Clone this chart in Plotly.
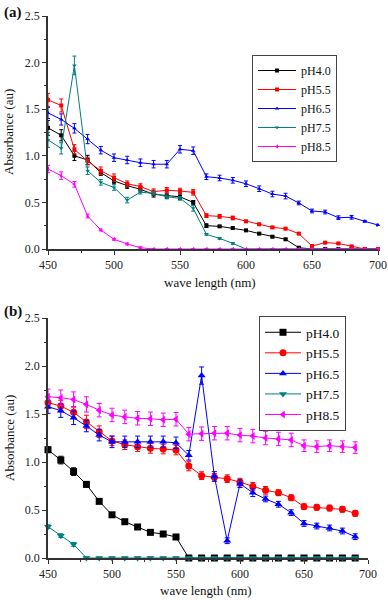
import plotly.graph_objects as go

# ---------------- data: panel (a) ----------------
wl_a = [450, 460, 470, 480, 490, 500, 510, 520, 530, 540, 550, 560, 570,
        580, 590, 600, 610, 620, 630, 640, 650, 660, 670, 680, 690, 700]
ph40_a = [1.30, 1.22, 1.00, 0.955, 0.82, 0.73, 0.68, 0.64, 0.587, 0.57, 0.56, 0.50, 0.25,
          0.243, 0.225, 0.20, 0.165, 0.132, 0.104, 0.014, 0, 0, 0, 0, 0, 0]
ph55_a = [1.60, 1.54, 1.07, 0.944, 0.84, 0.765, 0.70, 0.67, 0.615, 0.63, 0.622, 0.608, 0.358,
          0.35, 0.333, 0.297, 0.265, 0.232, 0.218, 0.165, 0.032, 0.068, 0.06, 0.028, 0, 0]
ph65_a = [1.46, 1.39, 1.295, 1.18, 1.06, 0.98, 0.955, 0.926, 0.91, 0.91, 1.07, 1.055, 0.776,
          0.762, 0.737, 0.70, 0.647, 0.59, 0.568, 0.494, 0.408, 0.397, 0.336, 0.34, 0.297, 0.257]
ph75_a = [1.17, 1.08, 1.97, 0.84, 0.715, 0.66, 0.525, 0.61, 0.597, 0.56, 0.544, 0.436, 0.157,
          0.114, 0.06, 0, 0, 0, 0, 0, 0, 0, 0, 0, 0, 0]
ph85_a = [0.858, 0.787, 0.694, 0.354, 0.204, 0.104, 0.054, 0.014, 0, 0, 0, 0, 0,
          0, 0, 0, 0, 0, 0, 0, 0, 0, 0, 0, 0, 0]
err40_a = [0.08, 0.06, 0.05, 0.05, 0.03, 0.03, 0.03, 0.03, 0.03, 0.03, 0.03, 0.02, 0.02,
           0.01, 0.01, 0.01, 0.01, 0.01, 0.01, 0.01, 0, 0, 0, 0, 0, 0]
err55_a = [0.07, 0.07, 0.05, 0.04, 0.04, 0.04, 0.03, 0.03, 0.03, 0.03, 0.03, 0.03, 0.02,
           0.02, 0.02, 0.01, 0.01, 0.01, 0.01, 0.01, 0.01, 0.01, 0.01, 0.01, 0, 0]
err65_a = [0.06, 0.06, 0.05, 0.05, 0.04, 0.04, 0.04, 0.04, 0.04, 0.04, 0.04, 0.04, 0.03,
           0.03, 0.03, 0.03, 0.03, 0.03, 0.03, 0.02, 0.02, 0.02, 0.02, 0.02, 0.01, 0.01]
err75_a = [0.08, 0.06, 0.10, 0.04, 0.03, 0.03, 0.03, 0.02, 0.02, 0.02, 0.02, 0.03, 0.01,
           0.01, 0.01, 0, 0, 0, 0, 0, 0, 0, 0, 0, 0, 0]
err85_a = [0.04, 0.04, 0.03, 0.02, 0.01, 0.01, 0.01, 0.01, 0, 0, 0, 0, 0,
           0, 0, 0, 0, 0, 0, 0, 0, 0, 0, 0, 0, 0]

# ---------------- data: panel (b) ----------------
wl_b = [450, 460, 470, 480, 490, 500, 510, 520, 530, 540, 550, 560, 570,
        580, 590, 600, 610, 620, 630, 640, 650, 660, 670, 680, 690]
ph40_b = [1.128, 1.02, 0.90, 0.767, 0.59, 0.45, 0.378, 0.323, 0.267, 0.25, 0.219, 0, 0,
          0, 0, 0, 0, 0, 0, 0, 0, 0, 0, 0, 0]
ph55_b = [1.618, 1.583, 1.517, 1.417, 1.316, 1.22, 1.18, 1.16, 1.142, 1.135, 1.125, 0.958, 0.858,
          0.84, 0.826, 0.79, 0.746, 0.705, 0.68, 0.628, 0.535, 0.528, 0.52, 0.507, 0.465]
ph65_b = [1.576, 1.535, 1.46, 1.375, 1.28, 1.21, 1.21, 1.21, 1.21, 1.21, 1.20, 1.07, 1.90,
          0.85, 0.18, 0.774, 0.68, 0.615, 0.56, 0.472, 0.36, 0.333, 0.313, 0.281, 0.222]
ph75_b = [0.326, 0.233, 0.142, 0, 0, 0, 0, 0, 0, 0, 0, 0, 0,
          0, 0, 0, 0, 0, 0, 0, 0, 0, 0, 0, 0]
ph85_b = [1.68, 1.67, 1.65, 1.60, 1.54, 1.49, 1.47, 1.455, 1.45, 1.44, 1.445, 1.29, 1.295,
          1.30, 1.30, 1.28, 1.27, 1.25, 1.24, 1.23, 1.17, 1.16, 1.17, 1.16, 1.15]
err40_b = [0.03, 0.04, 0.04, 0.03, 0.02, 0.02, 0.02, 0.02, 0.02, 0.02, 0.02, 0, 0,
           0, 0, 0, 0, 0, 0, 0, 0, 0, 0, 0, 0]
err55_b = [0.06, 0.06, 0.06, 0.07, 0.06, 0.05, 0.05, 0.05, 0.05, 0.05, 0.05, 0.05, 0.04,
           0.04, 0.04, 0.04, 0.04, 0.04, 0.03, 0.03, 0.03, 0.03, 0.03, 0.03, 0.03]
err65_b = [0.07, 0.07, 0.07, 0.06, 0.06, 0.06, 0.06, 0.06, 0.06, 0.06, 0.06, 0.05, 0.09,
           0.05, 0.03, 0.04, 0.04, 0.03, 0.03, 0.03, 0.03, 0.03, 0.03, 0.03, 0.03]
err75_b = [0.02, 0.02, 0.02, 0.01, 0.01, 0.01, 0.01, 0.01, 0.01, 0.01, 0.01, 0.01, 0.01,
           0.01, 0.01, 0.01, 0.01, 0.01, 0.01, 0.01, 0.01, 0.01, 0.01, 0.01, 0.01]
err85_b = [0.08, 0.08, 0.08, 0.08, 0.07, 0.07, 0.07, 0.07, 0.07, 0.07, 0.07, 0.07, 0.07,
           0.07, 0.07, 0.07, 0.07, 0.07, 0.07, 0.07, 0.06, 0.06, 0.06, 0.06, 0.06]

names = ["pH4.0", "pH5.5", "pH6.5", "pH7.5", "pH8.5"]
colors = ["#000000", "#FF0000", "#0000FF", "#008080", "#FF00FF"]
sym_a = ["square", "square", "triangle-up", "triangle-down", "triangle-left"]
sym_b = ["square", "circle", "triangle-up", "triangle-down", "triangle-left"]

SERIF = "Liberation Serif"

fig = go.Figure()

series_a = [ph40_a, ph55_a, ph65_a, ph75_a, ph85_a]
errs_a = [err40_a, err55_a, err65_a, err75_a, err85_a]
for nm, col, sym, ys, es in zip(names, colors, sym_a, series_a, errs_a):
    fig.add_trace(go.Scatter(
        x=wl_a, y=ys, name=nm, mode="lines+markers",
        line=dict(color=col, width=1),
        marker=dict(symbol=sym, size=4, color=col),
        error_y=dict(type="data", array=es, visible=True, color=col, thickness=1, width=2),
        cliponaxis=False, xaxis="x", yaxis="y", legend="legend"))

series_b = [ph40_b, ph55_b, ph65_b, ph75_b, ph85_b]
errs_b = [err40_b, err55_b, err65_b, err75_b, err85_b]
for nm, col, sym, ys, es in zip(names, colors, sym_b, series_b, errs_b):
    fig.add_trace(go.Scatter(
        x=wl_b, y=ys, name=nm, mode="lines+markers",
        line=dict(color=col, width=1),
        marker=dict(symbol=sym, size=7, color=col),
        error_y=dict(type="data", array=es, visible=True, color=col, thickness=1, width=2.5),
        cliponaxis=False, xaxis="x2", yaxis="y2", legend="legend2"))

W, H = 388, 600


def px_x(p):
    return p / W


def px_y(p):
    return 1 - p / H


axis_common = dict(
    showline=True, linecolor="#333333", linewidth=1.5, mirror=False,
    ticks="outside", ticklen=4, tickwidth=1, tickcolor="#333333",
    showgrid=False, zeroline=False, automargin=False,
    tickfont=dict(family=SERIF, size=12, color="#222222"),
)

fig.update_layout(
    template="none",
    width=W, height=H,
    margin=dict(l=0, r=0, t=0, b=0, autoexpand=False),
    paper_bgcolor="white", plot_bgcolor="white",
    font=dict(family=SERIF),
    xaxis=dict(domain=[px_x(48), px_x(378)], range=[450, 700], dtick=50, tick0=450,
               minor=dict(ticks="outside", ticklen=2, dtick=25, tickcolor="#333333"),
               anchor="y", **axis_common),
    yaxis=dict(domain=[px_y(249), px_y(16)], range=[0, 2.5], dtick=0.5, tick0=0,
               tickformat=".1f",
               minor=dict(ticks="outside", ticklen=2, dtick=0.25, tickcolor="#333333"),
               anchor="x", **axis_common),
    xaxis2=dict(domain=[px_x(48), px_x(368)], range=[450, 700], dtick=50, tick0=450,
                minor=dict(ticks="outside", ticklen=2, dtick=25, tickcolor="#333333"),
                anchor="y2", **axis_common),
    yaxis2=dict(domain=[px_y(558), px_y(318)], range=[0, 2.5], dtick=0.5, tick0=0,
                tickformat=".1f",
                minor=dict(ticks="outside", ticklen=2, dtick=0.25, tickcolor="#333333"),
                anchor="x2", **axis_common),
    legend=dict(x=px_x(252), y=px_y(55), xanchor="left", yanchor="top",
                bgcolor="white", bordercolor="#444444", borderwidth=1,
                font=dict(family=SERIF, size=12, color="#111111"),
                itemwidth=38, tracegroupgap=0),
    legend2=dict(x=px_x(259), y=px_y(316), xanchor="left", yanchor="top",
                 bgcolor="white", bordercolor="#444444", borderwidth=1,
                 font=dict(family=SERIF, size=13.5, color="#111111"),
                 itemwidth=36, tracegroupgap=0),
    showlegend=True,
)

annots = [
    dict(text="<b>(a)</b>", x=px_x(2), y=px_y(12), xanchor="left", yanchor="middle",
         font=dict(family=SERIF, size=15, color="#111111")),
    dict(text="<b>(b)</b>", x=px_x(2), y=px_y(311), xanchor="left", yanchor="middle",
         font=dict(family=SERIF, size=15, color="#111111")),
    dict(text="wave length (nm)", x=px_x(210), y=px_y(282), xanchor="center", yanchor="middle",
         font=dict(family=SERIF, size=13, color="#111111")),
    dict(text="wave length (nm)", x=px_x(206), y=px_y(590), xanchor="center", yanchor="middle",
         font=dict(family=SERIF, size=13, color="#111111")),
    dict(text="Absorbance (au)", x=px_x(9), y=px_y(132), xanchor="center", yanchor="middle",
         textangle=-90, font=dict(family=SERIF, size=13, color="#111111")),
    dict(text="Absorbance (au)", x=px_x(9), y=px_y(438), xanchor="center", yanchor="middle",
         textangle=-90, font=dict(family=SERIF, size=13, color="#111111")),
]
for a in annots:
    a.update(xref="paper", yref="paper", showarrow=False)
fig.update_layout(annotations=annots)

fig.write_html(
    "out.html",
    config={"displayModeBar": False},
    post_script="document.body.style.margin='0';document.body.style.overflow='hidden';",
)
